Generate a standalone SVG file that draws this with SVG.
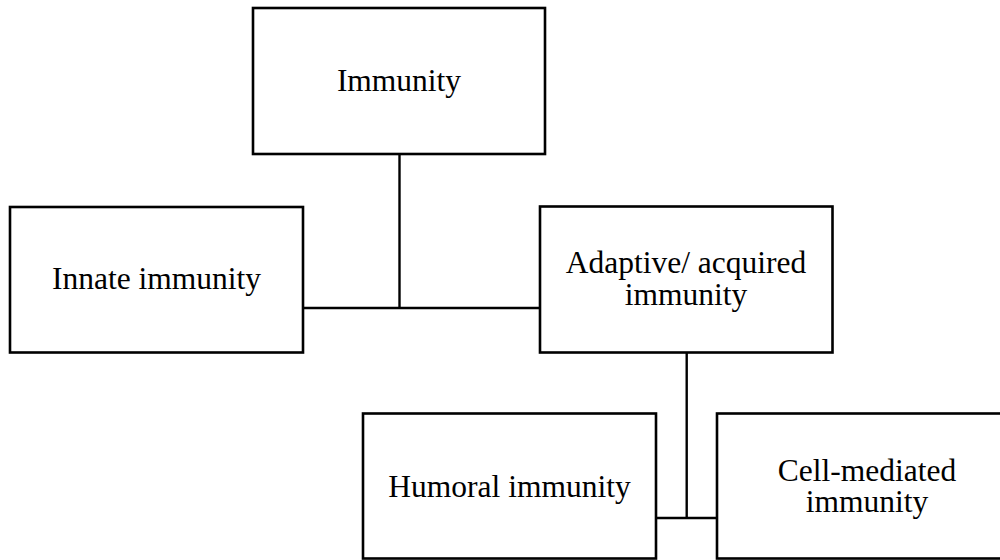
<svg xmlns="http://www.w3.org/2000/svg" width="1000" height="560" viewBox="0 0 1000 560">
<style>
.box{fill:#fff;stroke:#000;stroke-width:2.6}
.t{font-family:"Liberation Serif","Times New Roman",serif;font-size:31.5px;fill:#000;text-anchor:middle}
.c{fill:none;stroke:#000;stroke-width:2.4}
</style>
<rect width="1000" height="560" fill="#fff"/>
<g id="connectors">
<path class="c" d="M399.5 154 V308"/>
<path class="c" d="M303 308 H540"/>
<path class="c" d="M686.7 352.5 V518"/>
<path class="c" d="M656 518 H717"/>
</g>
<g id="immunity"><rect class="box" x="253" y="8" width="292" height="146"/><text class="t" x="399" y="90.5">Immunity</text></g>
<g id="innate"><rect class="box" x="10" y="207" width="293" height="145.5"/><text class="t" x="156.5" y="289.3">Innate immunity</text></g>
<g id="adaptive"><rect class="box" x="540" y="206.5" width="292.5" height="146"/><text class="t" x="686" y="273.3">Adaptive/ acquired</text><text class="t" x="686" y="305">immunity</text></g>
<g id="humoral"><rect class="box" x="363" y="413.5" width="293" height="145"/><text class="t" x="509.5" y="497.3">Humoral immunity</text></g>
<g id="cell"><rect class="box" x="717" y="413.5" width="300" height="145"/><text class="t" x="867" y="480.7">Cell-mediated</text><text class="t" x="867" y="511.7">immunity</text></g>
</svg>
